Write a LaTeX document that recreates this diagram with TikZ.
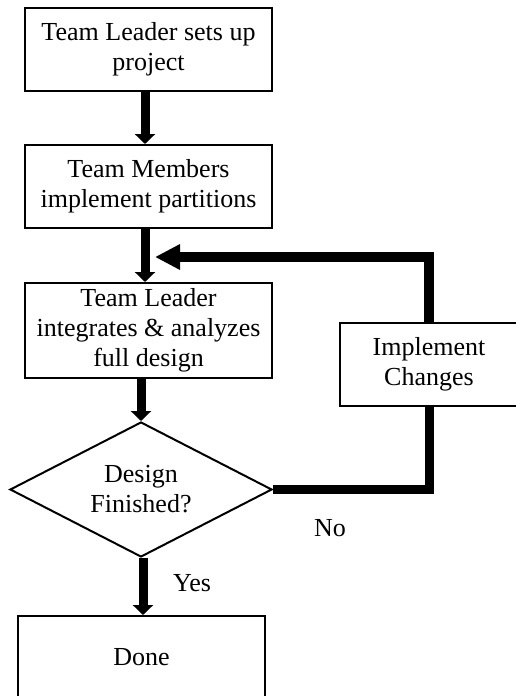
\documentclass[tikz,border=0pt]{standalone}
\usepackage{fontspec}
\setmainfont{Liberation Serif}
\usetikzlibrary{shapes.geometric,arrows.meta}
\begin{document}
\begin{tikzpicture}[x=1pt,y=-1pt,
  every node/.style={font=\fontsize{26}{30}\selectfont},
  stepbox/.style={draw,line width=2pt,rectangle,minimum width=247pt,align=center,inner sep=0pt},
  decision/.style={draw,line width=2pt,diamond,aspect=1.94,minimum width=262pt,minimum height=135pt,align=center,inner sep=0pt},
  flow/.style={line width=9pt,-{Triangle[width=20pt,length=10pt]}},
  back/.style={line width=10pt,-{Triangle[width=24pt,length=25pt]}},
  loop/.style={line width=9pt}]
\useasboundingbox (0,0) rectangle (515,696);
\fill[white] (0,0) rectangle (515,696);

\node[stepbox,minimum height=83pt] (setup) at (148.5,49.5) {Team Leader sets up\\project};
\node[stepbox,minimum height=83pt] (members) at (148.5,186.5) {Team Members\\implement partitions};
\node[stepbox,minimum height=95pt] (integrate) at (148.5,330.5) {Team Leader\\integrates \& analyzes\\full design};
\node[stepbox,minimum width=178pt,minimum height=83pt] (impl) at (429,364.5) {Implement\\Changes};
\node[decision] (finished) at (141,489.5) {Design\\Finished?};
\node[stepbox,minimum height=82pt] (done) at (141.5,657) {Done};

\coordinate (merge) at (155,257);

\draw[flow] ([xshift=-3.5pt]setup.south) -- ([xshift=-3.5pt]members.north);
\draw[flow] ([xshift=-3.5pt]members.south) -- ([xshift=-3.5pt]integrate.north);
\draw[flow] (finished.north |- integrate.south) -- (finished.north);
\draw[flow] ([xshift=2pt]finished.south) -- ([xshift=2pt]finished.south |- done.north);

\draw[loop,line join=miter] (finished.east) -| (impl.south);
\draw[back,line join=miter] (impl.north) |- (merge);

\node (no) at (330,528) {No};
\node (yes) at (192,583) {Yes};
\end{tikzpicture}
\end{document}
